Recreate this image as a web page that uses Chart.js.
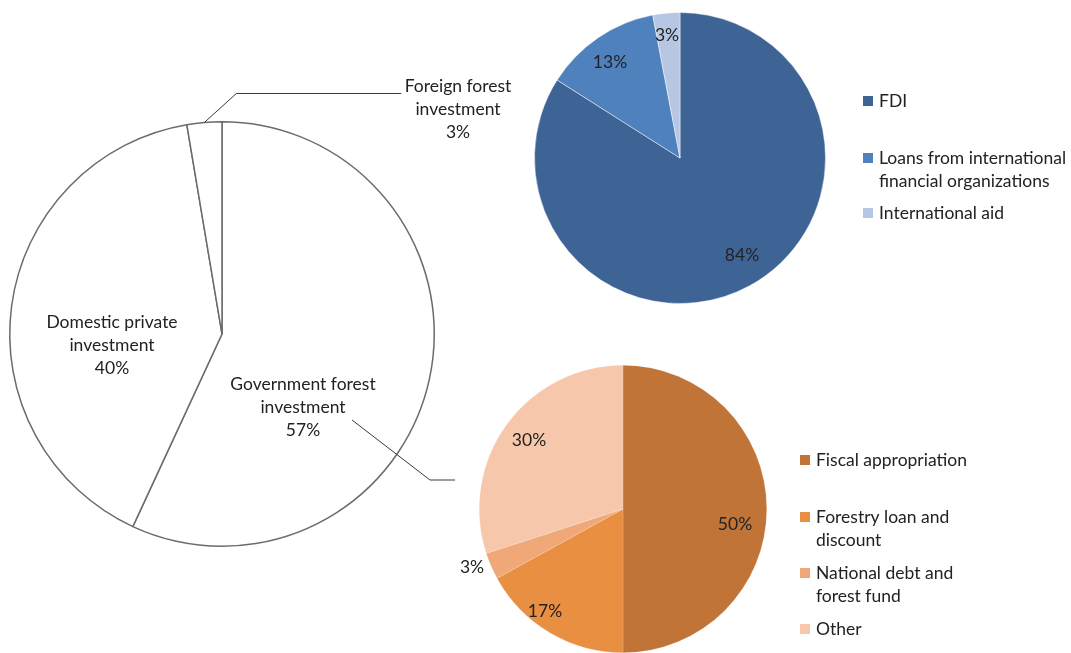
<!DOCTYPE html>
<html>
<head>
<meta charset="utf-8">
<script src="https://cdn.jsdelivr.net/npm/chart.js@4.4.1/dist/chart.umd.min.js"></script>
<style>
  html, body { margin: 0; padding: 0; background: #fff; }
  #wrap { position: relative; width: 1071px; height: 653px; overflow: hidden; }
  #wrap canvas { position: absolute; left: 0; top: 0; }
</style>
</head>
<body>
<div id="wrap">
  <canvas id="pie_total" width="1071" height="653"></canvas>
  <canvas id="pie_foreign" width="1071" height="653"></canvas>
  <canvas id="pie_gov" width="1071" height="653"></canvas>
</div>
<script>
// overall forest investment
const totalLabels = [['Government forest', 'investment'], ['Domestic private', 'investment'], ['Foreign forest', 'investment']];
const totalValues = [56.9, 40.45, 2.65];

// foreign forest investment breakdown
const foreignLabels = ['FDI', ['Loans from international', 'financial organizations'], 'International aid'];
const foreignValues = [84, 13, 3];

// government forest investment breakdown
const govLabels = ['Fiscal appropriation', ['Forestry loan and', 'discount'], ['National debt and', 'forest fund'], 'Other'];
const govValues = [50, 17, 3, 30];

const FONT = '17.5px Lato';
const TEXT = '#222222';

function lines(l) { return Array.isArray(l) ? l : [l]; }

function drawLines(ctx, arr, x, y, lh) {
    const start = y - (arr.length - 1) * lh / 2;
    arr.forEach((t, i) => ctx.fillText(t, x, start + i * lh));
}

// percent labels placed at offsets from the pie centre
function pctLabels(offsets, withNames, lh) {
    return {
        id: 'pctLabels',
        afterDatasetsDraw(chart) {
            const ctx = chart.ctx;
            const arcs = chart.getDatasetMeta(0).data;
            const vals = chart.data.datasets[0].data;
            ctx.save();
            ctx.font = FONT;
            ctx.fillStyle = TEXT;
            ctx.textAlign = 'center';
            ctx.textBaseline = 'middle';
            arcs.forEach((arc, i) => {
                const x = arc.x + offsets[i][0];
                const y = arc.y + offsets[i][1];
                let arr = [Math.round(vals[i]) + '%'];
                if (withNames) arr = lines(chart.data.labels[i]).concat(arr);
                drawLines(ctx, arr, x, y, lh);
            });
            ctx.restore();
        }
    };
}

// legend drawn beside a pie, one row per category
function sideLegend(x, rowsY) {
    return {
        id: 'sideLegend',
        afterDraw(chart) {
            const ctx = chart.ctx;
            const colors = chart.data.datasets[0].backgroundColor;
            ctx.save();
            ctx.font = FONT;
            ctx.textBaseline = 'middle';
            ctx.textAlign = 'left';
            chart.data.labels.forEach((lab, i) => {
                const y = rowsY[i];
                ctx.fillStyle = colors[i];
                ctx.fillRect(x, y - 5, 10, 10);
                ctx.fillStyle = TEXT;
                lines(lab).forEach((t, j) => ctx.fillText(t, x + 16, y + j * 23));
            });
            ctx.restore();
        }
    };
}

// leader lines of the big pie
const leaders = {
    id: 'leaders',
    afterDatasetsDraw(chart) {
        const ctx = chart.ctx;
        const arc = chart.getDatasetMeta(0).data[2];
        const mid = (arc.startAngle + arc.endAngle) / 2;
        const sx = arc.x + Math.cos(mid) * arc.outerRadius;
        const sy = arc.y + Math.sin(mid) * arc.outerRadius;
        ctx.save();
        ctx.strokeStyle = '#3a3a3a';
        ctx.lineWidth = 1;
        ctx.beginPath();
        ctx.moveTo(sx, sy);
        ctx.lineTo(sx + 32, sy - 29);
        ctx.lineTo(sx + 197, sy - 29);
        ctx.stroke();
        // government slice -> breakdown pie
        ctx.beginPath();
        ctx.moveTo(arc.x + 130, arc.y + 86);
        ctx.lineTo(arc.x + 208, arc.y + 146);
        ctx.lineTo(arc.x + 233, arc.y + 146);
        ctx.stroke();
        ctx.restore();
    }
};

function pieOptions(pad) {
    return {
        responsive: false,
        animation: false,
        layout: { padding: pad },
        plugins: { legend: { display: false }, tooltip: { enabled: false } },
        events: []
    };
}

new Chart(document.getElementById('pie_total'), {
    type: 'pie',
    data: {
        labels: totalLabels,
        datasets: [{
            data: totalValues,
            backgroundColor: '#ffffff',
            borderColor: '#6b6b6b',
            borderWidth: 1.5
        }]
    },
    options: pieOptions({ left: 9, right: 636, top: 121, bottom: 106 }),
    plugins: [pctLabels([[81, 73], [-110, 11], [236, -225]], true, 23), leaders]
});

new Chart(document.getElementById('pie_foreign'), {
    type: 'pie',
    data: {
        labels: foreignLabels,
        datasets: [{
            data: foreignValues,
            backgroundColor: ['#3e6496', '#4f81bd', '#b7c6e2'],
            borderColor: 'rgba(255,255,255,0.45)',
            borderWidth: 1
        }]
    },
    options: pieOptions({ left: 534, right: 245, top: 12, bottom: 349 }),
    plugins: [pctLabels([[62, 97], [-70, -96], [-13, -123]], false, 22), sideLegend(863, [101, 158, 213])]
});

new Chart(document.getElementById('pie_gov'), {
    type: 'pie',
    data: {
        labels: govLabels,
        datasets: [{
            data: govValues,
            backgroundColor: ['#c07438', '#e88f42', '#f0a878', '#f6c7ab'],
            borderColor: 'rgba(255,255,255,0.3)',
            borderWidth: 0.5
        }]
    },
    options: pieOptions({ left: 478, right: 303, top: 365, bottom: 0 }),
    plugins: [pctLabels([[112, 15], [-78, 102], [-151, 58], [-94, -69]], false, 22), sideLegend(800, [460, 517, 573, 629])]
});
</script>
</body>
</html>
